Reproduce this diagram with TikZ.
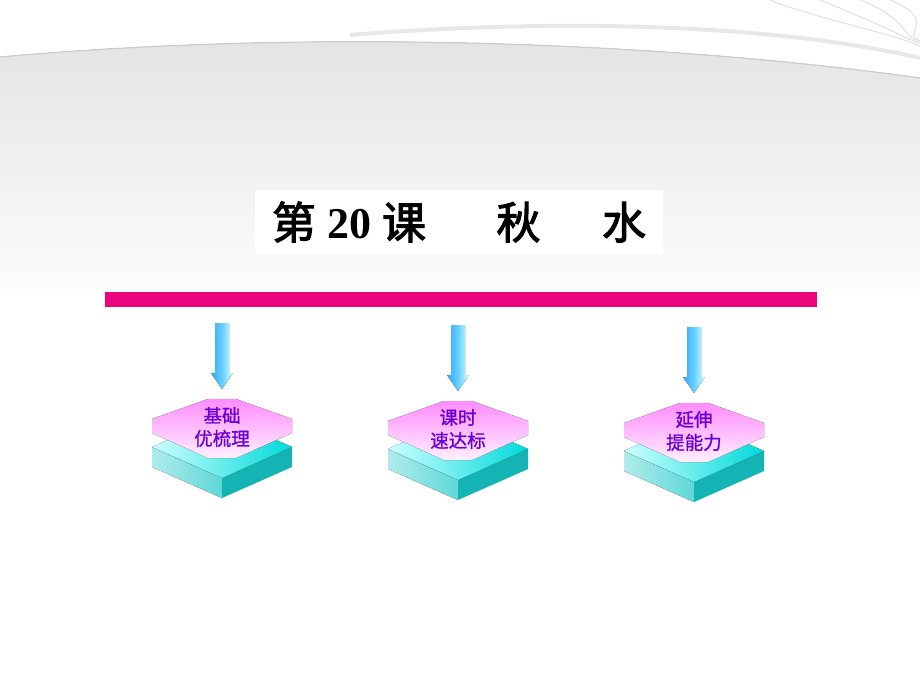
\documentclass[tikz,border=0pt]{standalone}
\usepackage{fontspec}
\newfontfamily\cjk{Noto Sans CJK SC}[FakeBold=1.2]
\newfontfamily\cjkb{Noto Sans CJK SC}[FakeBold=2.5]
\newfontfamily\tnr{Liberation Serif}
\definecolor{lblc}{HTML}{6A00D8}
\definecolor{slabL}{HTML}{5FD8D8}
\definecolor{slabR}{HTML}{14B4B4}
\begin{document}
\begin{tikzpicture}[x=1pt,y=-1pt,
  lbl/.style={font=\cjk\fontsize{18.5}{23}\selectfont, text=lblc, align=center},
  arr/.style={draw=none, left color=blue!45!cyan!80, right color=cyan!15, middle color=blue!30!cyan!60}]
\useasboundingbox (0,0) rectangle (920,690);
\fill[white] (0,0) rectangle (920,690);
% background band
\fill[top color=black!11, bottom color=white] (0,57) .. controls (300,30) and (650,40) .. (920,78) -- (920,320) -- (0,320) -- cycle;
\fill[white] (0,290) rectangle (920,330);
\draw[black!20, line width=1.2] (0,57) .. controls (300,30) and (650,40) .. (920,78);
\draw[black!9, line width=4] (350,35) .. controls (600,15) and (800,30) .. (920,58);
\foreach \a in {770, 820, 860, 890}
  \draw[black!12, line width=1] (\a,0) .. controls (\a+50,20) and (900,35) .. (920,45-\a/20+40);
% title
\node[fill=white, minimum width=408, minimum height=64, inner sep=0] (title) at (459,222)
  {\cjkb\fontsize{44}{46}\selectfont 第\hspace{0.25em}{\tnr\bfseries 20}\hspace{0.25em}课\hspace{1.6em}秋\hspace{1.4em}水};
% bar
\node[fill=magenta!85!red, minimum width=712, minimum height=15, inner sep=0] (bar) at (461,299.5) {};
\foreach \cx/\dy/\t [count=\i] in {222/0/{基础\\优梳理}, 458/2/{课时\\速达标}, 694/4/{延伸\\提能力}}{
  \begin{scope}[yshift=-\dy]
  \fill[arr] (\cx-7,323) -- (\cx+7,323) -- (\cx+7,373) -- (\cx+11,373) -- (\cx,389) -- (\cx-11,373) -- (\cx-7,373) -- cycle;
  \fill[left color=slabL!50, right color=slabL] (\cx-70,447) -- (\cx,478) -- (\cx,498) -- (\cx-70,467) -- cycle;
  \fill[slabR] (\cx+70,447) -- (\cx,478) -- (\cx,498) -- (\cx+70,467) -- cycle;
  \fill[left color=cyan!20, right color=cyan!70!teal] (\cx-70,447) -- (\cx,416) -- (\cx+70,447) -- (\cx,478) -- cycle;
  \fill[top color=magenta!45, bottom color=magenta!6] (\cx-70,419) -- (\cx-14,399) -- (\cx+14,399) -- (\cx+70,419) -- (\cx+70,433) -- (\cx+14,458) -- (\cx-14,458) -- (\cx-70,433) -- cycle;
  \end{scope}
  \node[lbl] (l\i) at (\cx,427+\dy) {\t};
}
\end{tikzpicture}
\end{document}
